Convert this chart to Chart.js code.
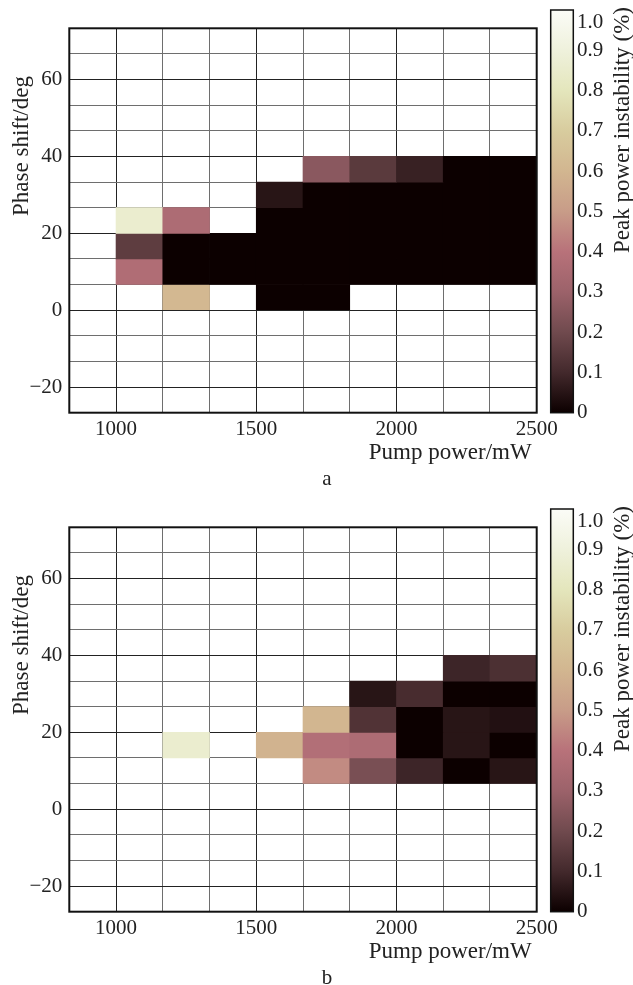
<!DOCTYPE html>
<html>
<head>
<meta charset="utf-8">
<script src="https://cdn.jsdelivr.net/npm/chart.js@4.4.1/dist/chart.umd.min.js"></script>
<style>
  html, body { margin: 0; padding: 0; background: #fff; overflow: hidden; }
  .panel { position: absolute; left: 0; width: 633px; height: 486px; }
  .cbar { position: absolute; left: 540px; width: 93px; height: 486px; }
</style>
</head>
<body>
<div class="panel" style="top:0"><canvas id="heatA"></canvas></div>
<div class="cbar" style="top:0"><canvas id="cbarA"></canvas></div>
<div class="panel" style="top:499px"><canvas id="heatB"></canvas></div>
<div class="cbar" style="top:499px"><canvas id="cbarB"></canvas></div>
<script>
// cell centres (mW) and cell edges
const pumpPower = [916.67, 1083.33, 1250, 1416.67, 1583.33, 1750, 1916.67, 2083.33, 2250, 2416.67];
const pumpEdges = [833.33, 1000, 1166.67, 1333.33, 1500, 1666.67, 1833.33, 2000, 2166.67, 2333.33, 2500];
// phase shift edges (deg), bottom to top
const phaseEdges = [-26.67, -20, -13.33, -6.67, 0, 6.67, 13.33, 20, 26.67, 33.33, 40, 46.67, 53.33, 60, 66.67, 73.33];

const xTicks = [1000, 1500, 2000, 2500];
const yTicks = [-20, 0, 20, 40, 60];
const cbTicks = [0, 0.1, 0.2, 0.3, 0.4, 0.5, 0.6, 0.7, 0.8, 0.9, 1.0];

const _ = null; // empty (white) cell
// peak power instability, rows listed top (73 deg) to bottom (-27 deg)
const instabilityA = [
  [_, _, _, _, _, _, _, _, _, _],
  [_, _, _, _, _, _, _, _, _, _],
  [_, _, _, _, _, _, _, _, _, _],
  [_, _, _, _, _, _, _, _, _, _],
  [_, _, _, _, _, _, _, _, _, _],
  [_, _, _, _, _, 0.26, 0.15, 0.08, 0, 0],
  [_, _, _, _, 0.05, 0, 0, 0, 0, 0],
  [_, 0.86, 0.36, _, 0, 0, 0, 0, 0, 0],
  [_, 0.16, 0, 0, 0, 0, 0, 0, 0, 0],
  [_, 0.37, 0, 0, 0, 0, 0, 0, 0, 0],
  [_, _, 0.61, _, 0, 0, _, _, _, _],
  [_, _, _, _, _, _, _, _, _, _],
  [_, _, _, _, _, _, _, _, _, _],
  [_, _, _, _, _, _, _, _, _, _],
  [_, _, _, _, _, _, _, _, _, _],
];
const instabilityB = [
  [_, _, _, _, _, _, _, _, _, _],
  [_, _, _, _, _, _, _, _, _, _],
  [_, _, _, _, _, _, _, _, _, _],
  [_, _, _, _, _, _, _, _, _, _],
  [_, _, _, _, _, _, _, _, _, _],
  [_, _, _, _, _, _, _, _, 0.09, 0.12],
  [_, _, _, _, _, _, 0.05, 0.11, 0, 0],
  [_, _, _, _, _, 0.6, 0.13, 0, 0.05, 0.04],
  [_, _, 0.86, _, 0.59, 0.38, 0.36, 0, 0.05, 0],
  [_, _, _, _, _, 0.46, 0.22, 0.09, 0, 0.05],
  [_, _, _, _, _, _, _, _, _, _],
  [_, _, _, _, _, _, _, _, _, _],
  [_, _, _, _, _, _, _, _, _, _],
  [_, _, _, _, _, _, _, _, _, _],
  [_, _, _, _, _, _, _, _, _, _],
];

// colour map stops
const CMAP = [
  [0.0, '#0c0000'], [0.1, '#43292c'], [0.2, '#704a4e'], [0.3, '#9c626a'],
  [0.4, '#b8727a'], [0.5, '#c89c88'], [0.6, '#d2b690'], [0.7, '#d8cc9e'],
  [0.8, '#e4e6bc'], [0.9, '#eff1dc'], [1.0, '#fbfcf7'],
];

const FONT = { family: "'Liberation Serif', 'Times New Roman', serif", size: 21 };
const TICK_FONT_STR = "21px 'Liberation Serif', 'Times New Roman', serif";
const TITLE_FONT_STR = "23px 'Liberation Serif', 'Times New Roman', serif";
const INK = '#222';

function hexRgb(h) {
  return [1, 3, 5].map((i) => parseInt(h.slice(i, i + 2), 16));
}
function cmap(v) {
  for (let i = 1; i < CMAP.length; i++) {
    if (v <= CMAP[i][0] || i === CMAP.length - 1) {
      const [v0, c0] = CMAP[i - 1];
      const [v1, c1] = CMAP[i];
      const t = Math.max(0, Math.min(1, (v - v0) / (v1 - v0)));
      const a = hexRgb(c0), b = hexRgb(c1);
      const rgb = a.map((x, k) => Math.round(x + (b[k] - x) * t));
      return `rgb(${rgb.join(',')})`;
    }
  }
}
const near = (list, v) => list.some((t) => Math.abs(t - v) < 1e-3);

const framePlugin = {
  id: 'frame',
  afterDraw(chart, args, opts) {
    const { ctx, chartArea: a } = chart;
    ctx.save();
    ctx.strokeStyle = '#111';
    ctx.lineWidth = opts.width || 2;
    ctx.strokeRect(a.left, a.top, a.right - a.left, a.bottom - a.top);
    ctx.restore();
  }
};

const textPlugin = {
  id: 'panelText',
  afterDraw(chart, args, opts) {
    const { ctx } = chart;
    (opts.items || []).forEach((t) => {
      ctx.save();
      ctx.font = t.small ? TICK_FONT_STR : TITLE_FONT_STR;
      ctx.fillStyle = INK;
      ctx.textAlign = t.align || 'center';
      ctx.textBaseline = 'middle';
      ctx.translate(t.x, t.y);
      if (t.rotate) ctx.rotate(t.rotate);
      ctx.fillText(t.text, 0, 0);
      ctx.restore();
    });
  }
};

function heatmap(id, matrix, letter) {
  const nRows = matrix.length;
  const datasets = matrix.map((row, r) => {
    const lo = phaseEdges[nRows - 1 - r];
    const hi = phaseEdges[nRows - r];
    return {
      data: pumpPower.map((x, j) => ({ x, y: row[j] === null ? null : [lo, hi] })),
      backgroundColor: row.map((v) => (v === null ? 'rgba(0,0,0,0)' : cmap(v))),
      borderWidth: 0,
      barPercentage: 1,
      categoryPercentage: 1,
      grouped: false,
    };
  });

  new Chart(document.getElementById(id), {
    type: 'bar',
    data: { datasets },
    options: {
      responsive: true,
      maintainAspectRatio: false,
      animation: false,
      layout: { padding: { top: 28.3, right: 96.3, left: 0, bottom: 0 } },
      plugins: {
        legend: { display: false },
        tooltip: { enabled: false },
        panelText: {
          items: [
            { text: 'Phase shift/deg', x: 22, y: 146, rotate: -Math.PI / 2 },
            { text: 'Pump power/mW', x: 531.7, y: 453, align: 'right' },
            { text: letter, x: 327, y: 479, small: true },
          ],
        },
      },
      scales: {
        x: {
          type: 'linear',
          min: 833.33,
          max: 2500,
          offset: false,
          z: 1,
          afterBuildTicks: (s) => { s.ticks = pumpEdges.map((v) => ({ value: v })); },
          afterFit: (s) => { s.height = 73.3; s.paddingLeft = 0; s.paddingRight = 0; },
          grid: {
            offset: false,
            drawTicks: false,
            lineWidth: 1,
            color: (c) => (near(xTicks, c.tick.value) ? '#222' : '#6e6e6e'),
          },
          border: { display: false },
          ticks: {
            autoSkip: false,
            maxRotation: 0,
            padding: 4,
            font: FONT,
            color: INK,
            callback: (v) => (near(xTicks, v) ? String(Math.round(v)) : ''),
          },
        },
        y: {
          type: 'linear',
          min: -26.67,
          max: 73.33,
          z: 1,
          afterBuildTicks: (s) => { s.ticks = phaseEdges.map((v) => ({ value: v })); },
          afterFit: (s) => { s.width = 69.3; s.paddingTop = 0; s.paddingBottom = 0; },
          grid: {
            drawTicks: false,
            lineWidth: 1,
            color: (c) => (near(yTicks, c.tick.value) ? '#222' : '#6e6e6e'),
          },
          border: { display: false },
          ticks: {
            autoSkip: false,
            padding: 7,
            font: FONT,
            color: INK,
            callback: (v) => {
              if (!near(yTicks, v)) return '';
              const r = Math.round(v);
              return r < 0 ? '\u2212' + Math.abs(r) : String(r);
            },
          },
        },
      },
    },
    plugins: [framePlugin, textPlugin],
  });
}

function colorbar(id) {
  new Chart(document.getElementById(id), {
    type: 'bar',
    data: {
      labels: [''],
      datasets: [{
        data: [[0, 1]],
        borderWidth: 0,
        barPercentage: 1,
        categoryPercentage: 1,
        backgroundColor: (ctx) => {
          const { chart } = ctx;
          if (!chart.chartArea) return '#000';
          const ys = chart.scales.y;
          const g = chart.ctx.createLinearGradient(0, ys.getPixelForValue(0), 0, ys.getPixelForValue(1));
          CMAP.forEach(([v, c]) => g.addColorStop(v, c));
          return g;
        },
      }],
    },
    options: {
      responsive: true,
      maintainAspectRatio: false,
      animation: false,
      layout: { padding: { left: 10.7, top: 10, right: 0, bottom: 73.3 } },
      plugins: {
        legend: { display: false },
        tooltip: { enabled: false },
        frame: { width: 1.5 },
        panelText: {
          items: [{ text: 'Peak power instability (%)', x: 83, y: 130, rotate: -Math.PI / 2 }],
        },
      },
      scales: {
        x: { display: false },
        y: {
          position: 'right',
          min: 0,
          max: 1,
          z: 1,
          afterBuildTicks: (s) => { s.ticks = cbTicks.map((v) => ({ value: v })); },
          afterFit: (s) => { s.width = 59.7; s.paddingTop = 0; s.paddingBottom = 0; },
          grid: {
            drawOnChartArea: false,
            tickLength: -4,
            lineWidth: 1,
            tickColor: (c) => (Math.abs(c.tick.value - 0.1) < 1e-6 ? '#fff' : '#111'),
          },
          border: { display: false },
          ticks: {
            autoSkip: false,
            padding: 7.7,
            font: FONT,
            color: INK,
            callback: (v) => (v === 0 ? '0' : v === 1 ? ['', '1.0'] : v.toFixed(1)),
          },
        },
      },
    },
    plugins: [framePlugin, textPlugin],
  });
}

heatmap('heatA', instabilityA, 'a');
colorbar('cbarA');
heatmap('heatB', instabilityB, 'b');
colorbar('cbarB');
</script>
</body>
</html>
